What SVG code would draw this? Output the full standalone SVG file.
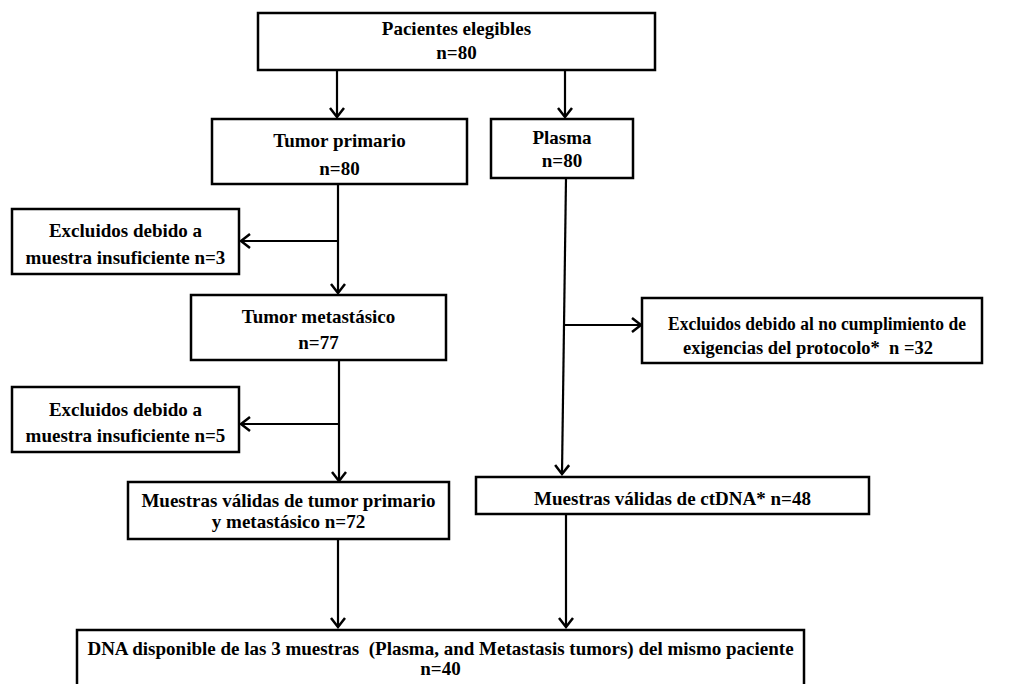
<svg xmlns="http://www.w3.org/2000/svg" width="1022" height="684" viewBox="0 0 1022 684">
<style>
.box{fill:#fff;stroke:#000;stroke-width:2.5}
.t{font-family:"Liberation Serif","Times New Roman",serif;font-weight:bold;font-size:19px;fill:#000;text-anchor:middle}
.s{font-size:18px}
.c{fill:none;stroke:#000;stroke-width:2.2}
</style>
<defs>
<marker id="ah" markerUnits="userSpaceOnUse" markerWidth="14" markerHeight="18" viewBox="0 0 14 18" refX="12" refY="9" orient="auto">
<path d="M3,2 L12,9 L3,16" fill="none" stroke="#000" stroke-width="2.5"/>
</marker>
</defs>
<rect width="1022" height="684" fill="#fff"/>
<g id="connectors">
<line class="c" x1="337" y1="70" x2="337" y2="117" marker-end="url(#ah)"/>
<line class="c" x1="565" y1="70" x2="565" y2="117" marker-end="url(#ah)"/>
<line class="c" x1="338" y1="184" x2="338" y2="293" marker-end="url(#ah)"/>
<line class="c" x1="338" y1="241" x2="241" y2="241" marker-end="url(#ah)"/>
<line class="c" x1="339" y1="360" x2="339" y2="481" marker-end="url(#ah)"/>
<line class="c" x1="339" y1="424" x2="241" y2="424" marker-end="url(#ah)"/>
<line class="c" x1="566" y1="178" x2="562" y2="474" marker-end="url(#ah)"/>
<line class="c" x1="565" y1="325" x2="641" y2="325" marker-end="url(#ah)"/>
<line class="c" x1="338" y1="539" x2="338" y2="627" marker-end="url(#ah)"/>
<line class="c" x1="566" y1="514" x2="566" y2="627" marker-end="url(#ah)"/>
</g>
<g id="pacientes">
<rect class="box" x="258" y="13" width="397" height="57"/>
<text class="t" x="456.5" y="35">Pacientes elegibles</text>
<text class="t" x="456.5" y="59">n=80</text>
</g>
<g id="tumor-primario">
<rect class="box" x="212" y="119" width="255" height="65"/>
<text class="t" x="339.5" y="147">Tumor primario</text>
<text class="t" x="339.5" y="175">n=80</text>
</g>
<g id="plasma">
<rect class="box" x="491" y="119" width="142" height="59"/>
<text class="t" x="562" y="144">Plasma</text>
<text class="t" x="562" y="167">n=80</text>
</g>
<g id="excluidos-1">
<rect class="box" x="12" y="209" width="227" height="65"/>
<text class="t" x="125.5" y="237">Excluidos debido a</text>
<text class="t" x="125.5" y="264">muestra insuficiente n=3</text>
</g>
<g id="tumor-metastasico">
<rect class="box" x="191" y="295" width="255" height="65"/>
<text class="t" x="318.5" y="323">Tumor metastásico</text>
<text class="t" x="318.5" y="349">n=77</text>
</g>
<g id="excluidos-2">
<rect class="box" x="12" y="387" width="227" height="65"/>
<text class="t" x="125.5" y="416">Excluidos debido a</text>
<text class="t" x="125.5" y="442">muestra insuficiente n=5</text>
</g>
<g id="excluidos-3">
<rect class="box" x="642" y="298" width="340" height="65"/>
<text class="t s" x="817" y="330" textLength="298" lengthAdjust="spacingAndGlyphs">Excluidos debido al no cumplimiento de</text>
<text class="t s" x="808" y="354" xml:space="preserve" textLength="250" lengthAdjust="spacingAndGlyphs">exigencias del protocolo*  n =32</text>
</g>
<g id="muestras-tumor">
<rect class="box" x="128" y="482" width="321" height="57"/>
<text class="t" x="288.5" y="507">Muestras válidas de tumor primario</text>
<text class="t" x="288.5" y="528">y metastásico n=72</text>
</g>
<g id="muestras-ctdna">
<rect class="box" x="476" y="477" width="393" height="37"/>
<text class="t" x="672.5" y="505">Muestras válidas de ctDNA* n=48</text>
</g>
<g id="dna-disponible">
<rect class="box" x="77" y="630" width="727" height="70"/>
<text class="t" x="440.5" y="655" xml:space="preserve">DNA disponible de las 3 muestras  (Plasma, and Metastasis tumors) del mismo paciente</text>
<text class="t" x="440.5" y="675">n=40</text>
</g>
</svg>
